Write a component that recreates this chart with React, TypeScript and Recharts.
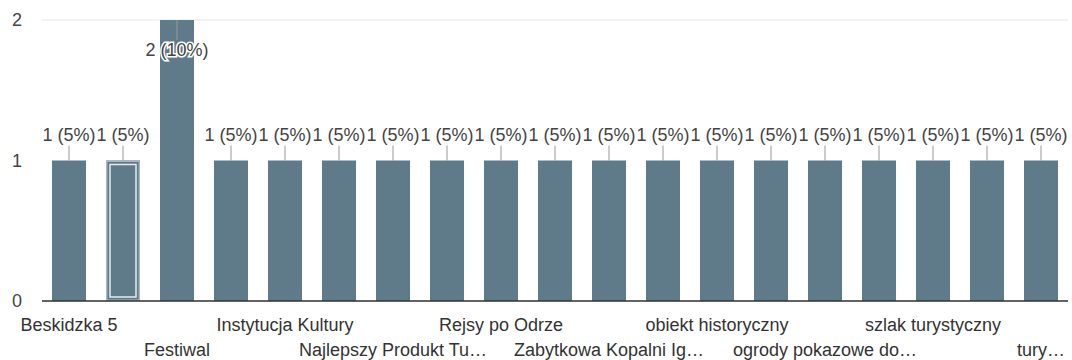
import React from "react";
import { BarChart, Bar, XAxis, YAxis, CartesianGrid, LabelList } from "recharts";

// Responses per answer (Polish survey: type of tourist attraction)
const categories = [
  "Beskidzka 5",
  "",
  "Festiwal",
  "",
  "Instytucja Kultury",
  "",
  "Najlepszy Produkt Tu…",
  "",
  "Rejsy po Odrze",
  "",
  "Zabytkowa Kopalni Ig…",
  "",
  "obiekt historyczny",
  "",
  "ogrody pokazowe do…",
  "",
  "szlak turystyczny",
  "",
  "tury…",
];
const counts = [1, 1, 2, 1, 1, 1, 1, 1, 1, 1, 1, 1, 1, 1, 1, 1, 1, 1, 1];
const yTicks = [0, 1, 2];
const majorGrid = [1, 2];
const minorGrid = [0.5, 1.5];
const selectedIndex = 1;

const total = counts.reduce((a, b) => a + b, 0);
const data = counts.map((v, i) => ({ idx: i, value: v }));

const FONT = "'Liberation Sans', Arial, sans-serif";
const BAR = "#5f7b8a";
const TEXT = "#444";
const FS = 18;

const CategoryTick = (props: any) => {
  const { x, y, payload } = props;
  const i = Number(payload.value);
  const label = categories[i];
  if (!label) return null;
  const row = Math.floor(i / 2) % 2;
  return (
    <text
      x={x}
      y={y}
      dy={row === 0 ? 30 : 55}
      textAnchor="middle"
      fontFamily={FONT}
      fontSize={FS}
      fill="#333"
    >
      {label}
    </text>
  );
};

const ValueLabel = (props: any) => {
  const { x, y, width, value } = props;
  const cx = x + width / 2;
  const pct = Math.round((value / total) * 100);
  const text = `${value} (${pct}%)`;
  const inside = y - 34 < 20;
  const lineTop = inside ? y : y - 15;
  const lineBottom = inside ? y + 20 : y;
  const ty = inside ? y + 36 : y - 20;
  return (
    <g>
      <line x1={cx} x2={cx} y1={lineTop} y2={lineBottom} stroke="#999" strokeWidth={1} />
      <text
        x={cx}
        y={ty}
        textAnchor="middle"
        fontFamily={FONT}
        fontSize={FS}
        fill={TEXT}
        stroke="#fff"
        strokeWidth={3}
        paintOrder="stroke"
      >
        {text}
      </text>
    </g>
  );
};

const BarShape = (props: any) => {
  const { x, y, width, height, index } = props;
  if (index !== selectedIndex) {
    return <rect x={x} y={y} width={width} height={height} fill={BAR} />;
  }
  return (
    <g>
      <rect x={x} y={y} width={width} height={height} fill={BAR} />
      <rect x={x + 0.75} y={y + 0.75} width={width - 1.5} height={height - 1.5} fill="none" stroke="#a3b6c0" strokeWidth={1.5} />
      <rect x={x + 4} y={y + 4} width={width - 8} height={height - 8} fill="none" stroke="#e4ebee" strokeWidth={1.5} />
    </g>
  );
};

export default function App() {
  return (
    <div style={{ position: "absolute", left: 0, top: 0, background: "#fff" }}>
      <BarChart
        width={1072}
        height={360}
        data={data}
        margin={{ top: 20, right: 4, bottom: 0, left: 0 }}
        barCategoryGap={10}
      >
        <CartesianGrid yAxisId="minor" vertical={false} stroke="#f4f4f4" />
        <CartesianGrid yAxisId="major" vertical={false} stroke="#ebebeb" />
        <XAxis
          dataKey="idx"
          type="category"
          interval={0}
          height={59}
          tickLine={false}
          tickSize={0}
          tickMargin={0}
          axisLine={{ stroke: "#333", strokeWidth: 1.5 }}
          tick={<CategoryTick />}
        />
        <YAxis
          yAxisId="left"
          width={42}
          domain={[0, 2]}
          ticks={yTicks}
          tickLine={false}
          axisLine={false}
          tickSize={0}
          tickMargin={20}
          tick={{ fontFamily: FONT, fontSize: FS, fill: TEXT }}
        />
        <YAxis yAxisId="minor" hide domain={[0, 2]} ticks={minorGrid} />
        <YAxis yAxisId="major" hide domain={[0, 2]} ticks={majorGrid} />
        <Bar yAxisId="left" dataKey="value" fill={BAR} isAnimationActive={false} shape={<BarShape />}>
          <LabelList dataKey="value" content={<ValueLabel />} />
        </Bar>
      </BarChart>
    </div>
  );
}
